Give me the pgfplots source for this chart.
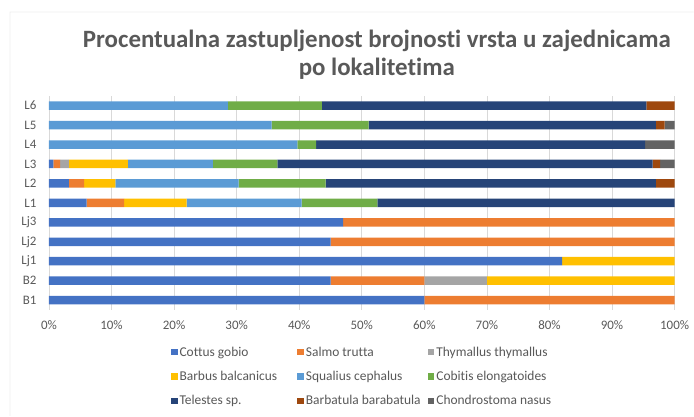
\documentclass[border=0pt]{standalone}
\usepackage{fontspec}
\setmainfont{Carlito}[Ligatures=NoCommon]
\usepackage{pgfplots}
\pgfplotsset{compat=1.18}
\usepackage{pgfplotstable}
\definecolor{c1}{HTML}{4472C4}
\definecolor{c2}{HTML}{ED7D31}
\definecolor{c3}{HTML}{A5A5A5}
\definecolor{c4}{HTML}{FFC000}
\definecolor{c5}{HTML}{5B9BD5}
\definecolor{c6}{HTML}{70AD47}
\definecolor{c7}{HTML}{264478}
\definecolor{c8}{HTML}{9E480E}
\definecolor{c9}{HTML}{636363}
\definecolor{labgray}{HTML}{595959}
\definecolor{gridgray}{HTML}{D9D9D9}
\pgfplotstableread{
y a b c d e f g h i
0 60 40 0 0 0 0 0 0 0
1 45 15 10 30 0 0 0 0 0
2 82 0 0 18 0 0 0 0 0
3 45 55 0 0 0 0 0 0 0
4 47 53 0 0 0 0 0 0 0
5 6 6 0 10 18.4 12.1 47.5 0 0
6 3.2 2.4 0 5 19.7 13.9 52.8 3 0
7 0.7 1.1 1.4 9.4 13.6 10.3 60 1.2 2.3
8 0 0 0 0 39.7 3 52.6 0 4.7
9 0 0 0 0 35.6 15.5 45.9 1.4 1.6
10 0 0 0 0 28.6 15 51.9 4.5 0
}\data
\begin{document}
\begin{tikzpicture}
\begin{axis}[name=ax,
  scale only axis, width=626bp, height=214bp,
  xbar stacked, bar width=8.5bp,
  xmin=0, xmax=100, ymin=-0.5, ymax=10.5,
  xtick={0,10,...,100}, xticklabel={\pgfmathprintnumber{\tick}\%},
  ytick={0,...,10}, yticklabels={B1,B2,Lj1,Lj2,Lj3,L1,L2,L3,L4,L5,L6},
  xmajorgrids, major grid style={draw=gridgray, line width=0.6pt},
  axis line style={draw=none}, tick style={draw=none},
  tick label style={font=\fontsize{13}{15}\selectfont, text=labgray},
  xticklabel style={yshift=-7bp},
  yticklabel style={xshift=-9bp},
  /pgf/number format/assume math mode=true,
  title={Procentualna zastupljenost brojnosti vrsta u zajednicama\\po lokalitetima},
  title style={font=\fontsize{25}{28}\selectfont\bfseries, text=labgray, align=center, at={(0.524,1)}, anchor=south, yshift=7bp},
  legend columns=3,
  legend cell align=left,
  legend style={draw=none, at={(0.19,-0.153)}, anchor=north west,
    font=\fontsize{13.5}{16}\selectfont, text=labgray, row sep=9.5bp,
    /tikz/every even column/.style={column sep=0pt}},
  legend image code/.code={\fill[#1] (0bp,-3.2bp) rectangle (6.5bp,3.2bp);},
  every axis plot/.append style={draw=none},
]
\addplot[fill=c1] table[x=a,y=y]{\data}; \addlegendentry{\makebox[116bp][l]{Cottus gobio}}
\addplot[fill=c2] table[x=b,y=y]{\data}; \addlegendentry{\makebox[120bp][l]{Salmo trutta}}
\addplot[fill=c3] table[x=c,y=y]{\data}; \addlegendentry{Thymallus thymallus}
\addplot[fill=c4] table[x=d,y=y]{\data}; \addlegendentry{\makebox[116bp][l]{Barbus balcanicus}}
\addplot[fill=c5] table[x=e,y=y]{\data}; \addlegendentry{\makebox[120bp][l]{Squalius cephalus}}
\addplot[fill=c6] table[x=f,y=y]{\data}; \addlegendentry{Cobitis elongatoides}
\addplot[fill=c7] table[x=g,y=y]{\data}; \addlegendentry{\makebox[116bp][l]{Telestes sp.}}
\addplot[fill=c8] table[x=h,y=y]{\data}; \addlegendentry{\makebox[120bp][l]{Barbatula barabatula}}
\addplot[fill=c9] table[x=i,y=y]{\data}; \addlegendentry{Chondrostoma nasus}
\end{axis}
\path (ax.south west) ++(-49bp,-106bp) coordinate (A);
\path (ax.north east) ++(19bp,96bp) coordinate (B);
\path (ax.south west) ++(-39bp,-106bp) coordinate (P1);
\path (ax.south west) ++(-39bp,298bp) coordinate (P2);
\path (ax.north east) ++(19bp,84bp) coordinate (P3);
\draw[draw=black!7, line width=0.8pt] (P1) -- (P2) -- (P3);
\useasboundingbox (A) rectangle (B);
\end{tikzpicture}
\end{document}
